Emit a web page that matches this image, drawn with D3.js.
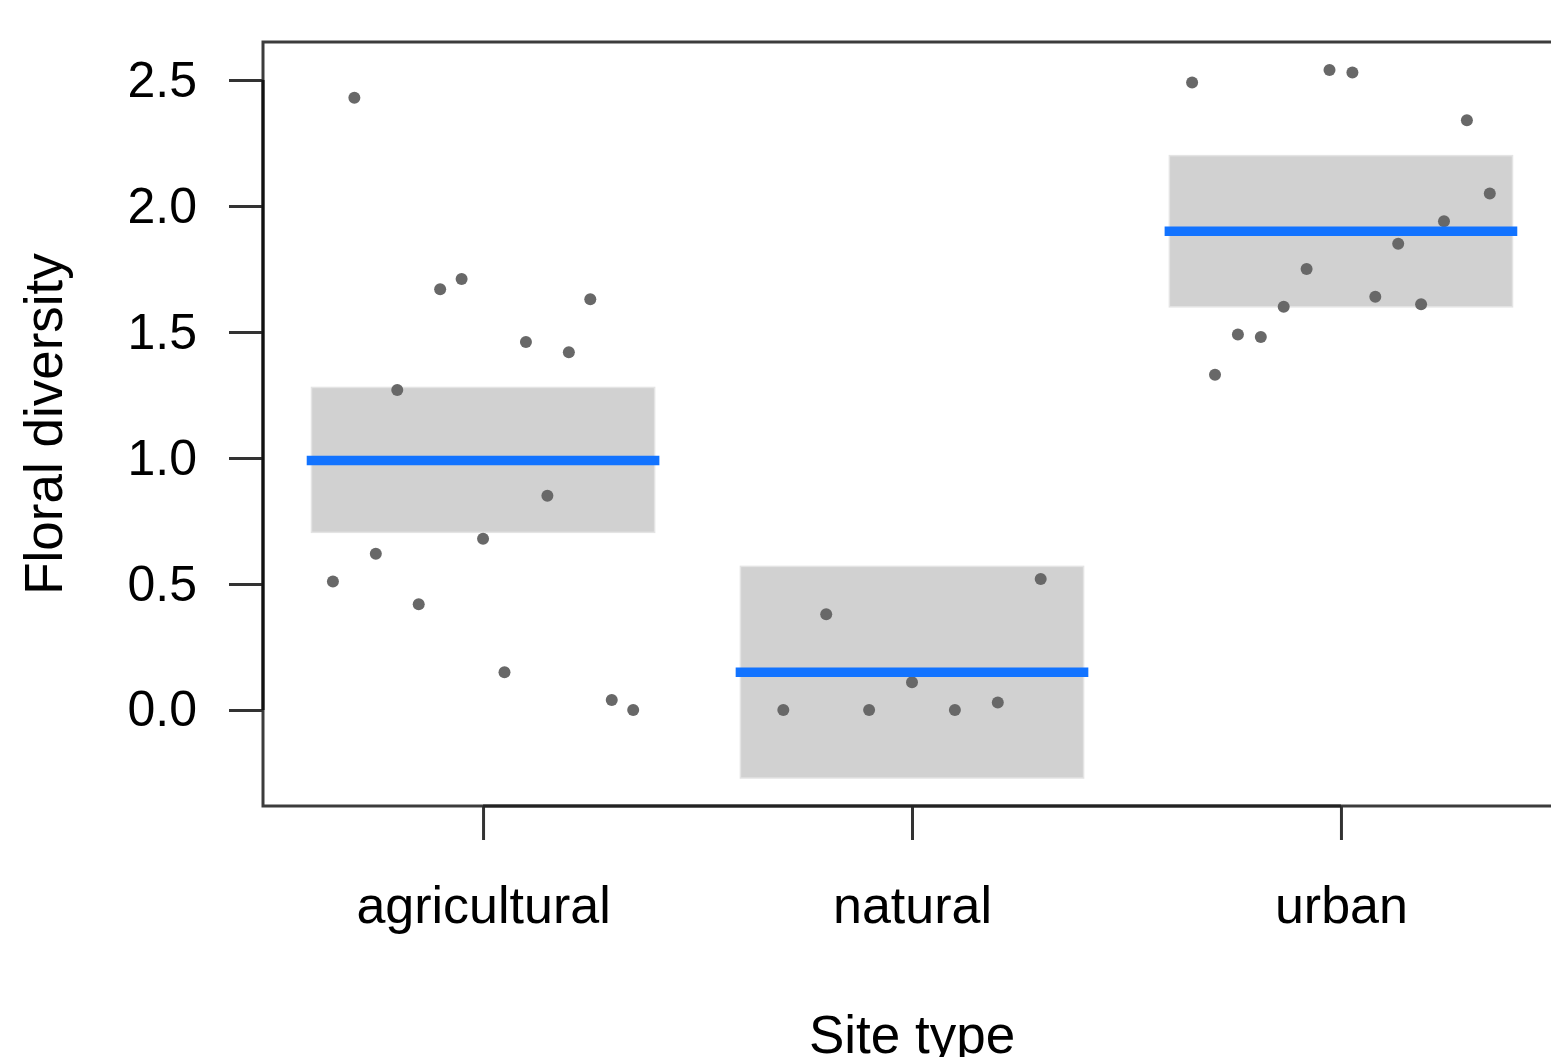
<!DOCTYPE html>
<html>
<head>
<meta charset="utf-8">
<script src="https://cdn.jsdelivr.net/npm/d3@7"></script>
<style>
  body { margin: 0; background: #fff; }
  svg { display: block; font-family: "Liberation Sans", Arial, sans-serif; }
  .tick text { font-size: 50px; fill: #000; }
  .x-axis .tick text { font-size: 52px; }
  .xy-title { font-size: 53px; fill: #000; }
</style>
</head>
<body>
<svg></svg>
<script>
const width = 1551;
const height = 1057;

// site types and their floral diversity values (left to right inside each group)
const categories = ["agricultural", "natural", "urban"];
const agricultural = [0.51, 2.43, 0.62, 1.27, 0.42, 1.67, 1.71, 0.68, 0.15, 1.46, 0.85, 1.42, 1.63, 0.04, 0.00];
const natural = [0.00, 0.38, 0.00, 0.11, 0.00, 0.03, 0.52];
const urban = [2.49, 1.33, 1.49, 1.48, 1.60, 1.75, 2.54, 2.53, 1.64, 1.85, 1.61, 1.94, 2.34, 2.05];
const groupValues = [agricultural, natural, urban];

// model estimates: mean and confidence band
const means = [0.99, 0.15, 1.90];
const lower = [0.705, -0.27, 1.60];
const upper = [1.28, 0.57, 2.20];

const yTicks = [0, 0.5, 1, 1.5, 2, 2.5];

const svg = d3.select('svg')
    .attr('width', width)
    .attr('height', height);

const plot = { left: 263, right: 1561, top: 42, bottom: 806 };

const xScale = d3.scalePoint()
    .domain(categories)
    .range([plot.left, plot.right])
    .padding(0.513);

const yScale = d3.scaleLinear()
    .domain([-0.381, 2.651])
    .range([plot.bottom, plot.top]);

const step = xScale.step();
const boxHalf = 0.4 * step;
const spread = [0.35, 0.30, 0.347];

const g = svg.append('g');

// confidence bands
g.selectAll('rect.band')
    .data(categories)
    .enter()
    .append('rect')
    .attr('class', 'band')
    .attr('x', d => xScale(d) - boxHalf)
    .attr('width', boxHalf * 2)
    .attr('y', (d, i) => yScale(upper[i]))
    .attr('height', (d, i) => yScale(lower[i]) - yScale(upper[i]))
    .attr('fill', '#d1d1d1')
    .attr('stroke', '#e4e4e4')
    .attr('stroke-width', 1.5);

// raw points
const points = [];
categories.forEach((c, i) => {
    const vals = groupValues[i];
    const inner = d3.scalePoint()
        .domain(d3.range(vals.length))
        .range([-spread[i] * step, spread[i] * step]);
    vals.forEach((v, j) => points.push({ x: xScale(c) + inner(j), v: v }));
});

g.selectAll('circle')
    .data(points)
    .enter()
    .append('circle')
    .attr('cx', d => d.x)
    .attr('cy', d => yScale(d.v))
    .attr('r', 6)
    .attr('fill', '#686868');

// mean lines
g.selectAll('line.mean')
    .data(categories)
    .enter()
    .append('line')
    .attr('class', 'mean')
    .attr('x1', d => xScale(d) - boxHalf)
    .attr('x2', d => xScale(d) + boxHalf)
    .attr('y1', (d, i) => yScale(means[i]))
    .attr('y2', (d, i) => yScale(means[i]))
    .attr('stroke', '#1273ff')
    .attr('stroke-width', 9.5)
    .attr('stroke-linecap', 'square');

// frame
svg.append('rect')
    .attr('x', plot.left)
    .attr('y', plot.top)
    .attr('width', plot.right - plot.left)
    .attr('height', plot.bottom - plot.top)
    .attr('fill', 'none')
    .attr('stroke', '#3c3c3c')
    .attr('stroke-width', 3);

// axes
const yAxis = d3.axisLeft(yScale)
    .tickValues(yTicks)
    .tickFormat(d3.format('.1f'))
    .tickSize(34)
    .tickPadding(32);

const yAxisG = svg.append('g')
    .attr('transform', 'translate(' + plot.left + ', 0)')
    .call(yAxis);
yAxisG.select('.domain').remove();
yAxisG.selectAll('.tick line').attr('stroke', '#333').attr('stroke-width', 3);
yAxisG.append('line')
    .attr('y1', yScale(yTicks[0]))
    .attr('y2', yScale(yTicks[yTicks.length - 1]))
    .attr('stroke', '#111')
    .attr('stroke-width', 3);

const xAxis = d3.axisBottom(xScale)
    .tickSize(34)
    .tickPadding(46);

const xAxisG = svg.append('g')
    .attr('class', 'x-axis')
    .attr('transform', 'translate(0, ' + plot.bottom + ')')
    .call(xAxis);
xAxisG.select('.domain').remove();
xAxisG.selectAll('.tick line').attr('stroke', '#333').attr('stroke-width', 3);
xAxisG.append('line')
    .attr('x1', xScale(categories[0]))
    .attr('x2', xScale(categories[categories.length - 1]))
    .attr('stroke', '#222')
    .attr('stroke-width', 3);

svg.selectAll('.tick text').attr('font-family', '"Liberation Sans", Arial, sans-serif');

// axis titles
svg.append('text')
    .attr('class', 'xy-title')
    .text('Site type')
    .attr('x', xScale('natural'))
    .attr('y', 1053)
    .attr('text-anchor', 'middle');

svg.append('text')
    .attr('class', 'xy-title')
    .text('Floral diversity')
    .attr('text-anchor', 'middle')
    .attr('transform', 'translate(62, ' + (plot.top + plot.bottom) / 2 + ') rotate(-90)');
</script>
</body>
</html>
